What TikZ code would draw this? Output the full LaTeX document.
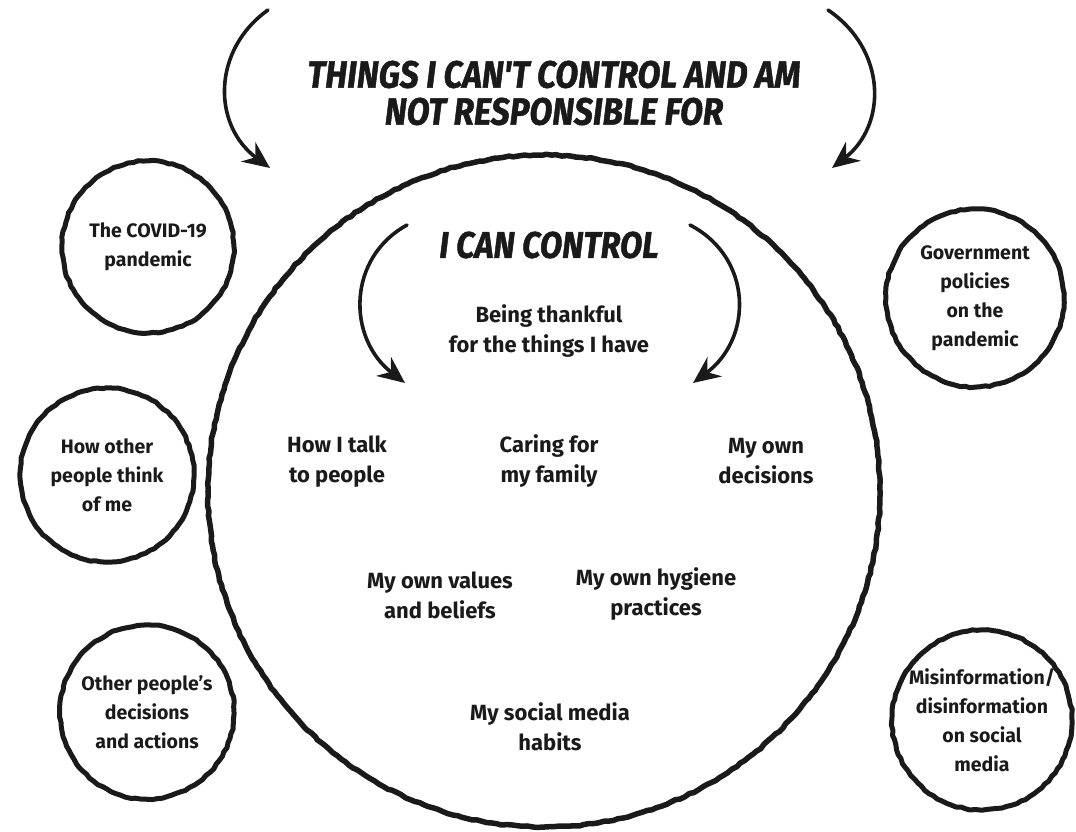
\documentclass[tikz,border=0pt]{standalone}
\usepackage{fontspec}
\setmainfont{Fira Sans}
\newfontfamily\headfont[FakeStretch=0.88,FakeBold=1.2]{Fira Sans}
\usetikzlibrary{arrows.meta,decorations.pathmorphing}
\definecolor{ink}{HTML}{1A1A1A}
\newcommand{\bodytxt}{\bfseries\fontsize{22}{30}\selectfont}
\newcommand{\smalltxt}{\bfseries\fontsize{19.5}{29}\selectfont}
\newcommand{\headtxt}{\headfont\bfseries\itshape\fontsize{38}{37}\selectfont}
\begin{document}
\pgfmathsetseed{7}
\begin{tikzpicture}[x=1pt,y=-1pt,
  rough/.style={draw=ink, line width=5pt, line join=round, decorate,
    decoration={random steps, segment length=5pt, amplitude=0.7pt}},
  bubble/.style={circle, rough, minimum size=#1, inner sep=0pt, align=center,
    font=\smalltxt, text=ink},
  lbl/.style={align=center, font=\bodytxt, text=ink},
  head/.style={align=center, font=\headtxt, text=ink},
  curvearrow/.style={draw=ink, line width=3.6pt, line cap=round,
    -{Stealth[length=27pt,width=24pt,inset=9pt]}}]
\useasboundingbox (0,0) rectangle (1076,832);
\fill[white] (0,0) rectangle (1076,832);

% big circle
\node[circle, rough, line width=5.5pt, minimum size=672pt, inner sep=0pt] (big) at (544,491) {};

% headings
\node[head] (title) at (554,93) {THINGS I CAN'T CONTROL AND AM\\NOT RESPONSIBLE FOR};
\node[head, font=\headfont\bfseries\itshape\fontsize{37}{32}\selectfont] (ican) at (549,245) {I CAN CONTROL};

% arrow endpoints
\coordinate (tlS) at (268,10);  \coordinate (tlE) at (270,168);
\coordinate (trS) at (828,10);  \coordinate (trE) at (832,168);
\coordinate (ilS) at (407,225); \coordinate (ilE) at (405,383);
\coordinate (irS) at (690,225); \coordinate (irE) at (693,383);

\draw[curvearrow] (tlS) .. controls (212,50) and (212,125) .. (tlE);
\draw[curvearrow] (trS) .. controls (887,50) and (887,125) .. (trE);
\draw[curvearrow] (ilS) .. controls (347,258) and (347,338) .. (ilE);
\draw[curvearrow] (irS) .. controls (753,258) and (753,338) .. (irE);

% inner labels
\node[lbl] (thank)   at (549,331) {Being thankful\\for the things I have};
\node[lbl] (talk)    at (337,462) {How I talk\\to people};
\node[lbl] (caring)  at (549,461) {Caring for\\my family};
\node[lbl] (decide)  at (766,461) {My own\\decisions};
\node[lbl] (values)  at (440,595) {My own values\\and beliefs};
\node[lbl] (hygiene) at (656,594) {My own hygiene\\practices};
\node[lbl] (social)  at (550,727) {My social media\\habits};

% outer bubbles
\node[bubble=172pt] (covid)    at (148,247) {The COVID-19\\pandemic};
\node[bubble=174pt] (others)   at (107,475) {How other\\people think\\of me};
\node[bubble=174pt] (otherdec) at (147,712) {Other people's\\decisions\\and actions};
\node[bubble=178pt] (gov)      at (975,298) {Government\\policies\\on the\\pandemic};
\node[bubble=180pt] (misinfo)  at (982,720) {Misinformation/\\disinformation\\on social\\media};
\end{tikzpicture}
\end{document}
